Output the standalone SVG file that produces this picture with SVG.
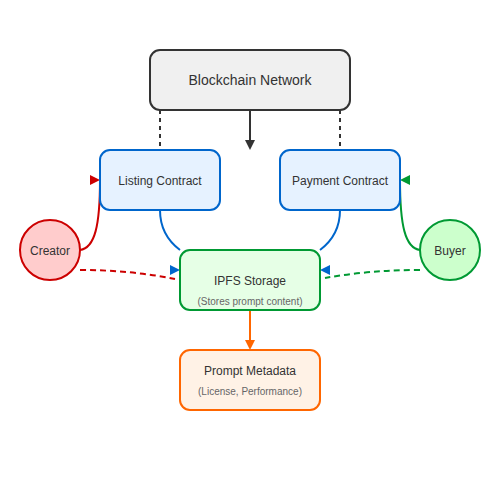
<svg xmlns="http://www.w3.org/2000/svg" width="500" height="500" viewBox="0 0 500 500">
<style>
  .box { stroke-width: 2; }
  .t { font-family: "Liberation Sans", Arial, sans-serif; fill: #333; text-anchor: middle; }
  .sub { font-family: "Liberation Sans", Arial, sans-serif; fill: #666; text-anchor: middle; font-size: 10px; }
  .c { fill: none; stroke-width: 2; }
</style>
<defs>
  <polygon id="ahR" points="0,-5 10,0 0,5"/>
  <polygon id="ahL" points="0,-5 -10,0 0,5"/>
  <polygon id="ahD" points="-5,0 5,0 0,10"/>
</defs>
<rect width="500" height="500" fill="#ffffff"/>
<g id="connectors">
  <line x1="160" y1="110" x2="160" y2="150" class="c" stroke="#333" stroke-dasharray="4,4"/>
  <line x1="340" y1="110" x2="340" y2="150" class="c" stroke="#333" stroke-dasharray="4,4"/>
  <line x1="250" y1="110" x2="250" y2="142" class="c" stroke="#333"/>
  <use href="#ahD" x="250" y="140" fill="#333"/>
  <path d="M80,250 C95,248 100,225 100,180" class="c" stroke="#cc0000"/>
  <use href="#ahR" x="90" y="180" fill="#cc0000"/>
  <path d="M420,250 C405,248 400,225 400,180" class="c" stroke="#009933"/>
  <use href="#ahL" x="410" y="180" fill="#009933"/>
  <path d="M160,210 Q160,235 180,250" class="c" stroke="#0066cc"/>
  <use href="#ahR" x="170" y="270" fill="#0066cc"/>
  <path d="M340,210 Q340,235 320,250" class="c" stroke="#0066cc"/>
  <use href="#ahL" x="330" y="270" fill="#0066cc"/>
  <path d="M80,270 Q130,270 175,279" class="c" stroke="#cc0000" stroke-dasharray="6,4"/>
  <path d="M420,270 Q370,270 325,278" class="c" stroke="#009933" stroke-dasharray="6,4"/>
  <line x1="250" y1="310" x2="250" y2="342" class="c" stroke="#ff6600"/>
  <use href="#ahD" x="250" y="340" fill="#ff6600"/>
</g>
<g id="blockchain">
  <rect x="150" y="50" width="200" height="60" rx="10" class="box" fill="#f0f0f0" stroke="#333"/>
  <text x="250" y="85" class="t" font-size="14">Blockchain Network</text>
</g>
<g id="listing">
  <rect x="100" y="150" width="120" height="60" rx="10" class="box" fill="#e6f2ff" stroke="#0066cc"/>
  <text x="160" y="185" class="t" font-size="12">Listing Contract</text>
</g>
<g id="payment">
  <rect x="280" y="150" width="120" height="60" rx="10" class="box" fill="#e6f2ff" stroke="#0066cc"/>
  <text x="340" y="185" class="t" font-size="12">Payment Contract</text>
</g>
<g id="creator">
  <circle cx="50" cy="250" r="30" class="box" fill="#ffcccc" stroke="#cc0000"/>
  <text x="50" y="255" class="t" font-size="12">Creator</text>
</g>
<g id="buyer">
  <circle cx="450" cy="250" r="30" class="box" fill="#ccffcc" stroke="#009933"/>
  <text x="450" y="255" class="t" font-size="12">Buyer</text>
</g>
<g id="ipfs">
  <rect x="180" y="250" width="140" height="60" rx="10" class="box" fill="#e6ffe6" stroke="#009933"/>
  <text x="250" y="285" class="t" font-size="12">IPFS Storage</text>
  <text x="250" y="305" class="sub">(Stores prompt content)</text>
</g>
<g id="metadata">
  <rect x="180" y="350" width="140" height="60" rx="10" class="box" fill="#fff2e6" stroke="#ff6600"/>
  <text x="250" y="375" class="t" font-size="12">Prompt Metadata</text>
  <text x="250" y="395" class="sub">(License, Performance)</text>
</g>
</svg>
